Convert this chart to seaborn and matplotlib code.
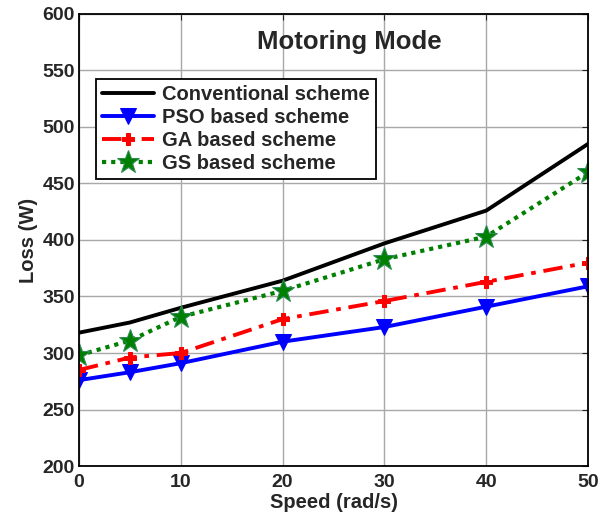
import matplotlib
matplotlib.use("Agg")
import matplotlib.pyplot as plt
import seaborn as sns
import pandas as pd

speed = [0, 5, 10, 20, 30, 40, 50]
conventional = [318, 327, 340, 364, 397, 426, 485]
pso = [276, 283, 291, 310, 323, 341, 359]
ga = [285, 296, 300, 330, 346, 363, 380]
gs = [298, 311, 332, 355, 383, 403, 460]
series_names = ["Conventional scheme", "PSO based scheme", "GA based scheme", "GS based scheme"]
x_ticks = [0, 10, 20, 30, 40, 50]
y_ticks = [200, 250, 300, 350, 400, 450, 500, 550, 600]

sns.set_style("white")
plt.rcParams['font.family'] = ['Liberation Sans', 'DejaVu Sans']
plt.rcParams['font.weight'] = 'bold'

fig = plt.figure(figsize=(6.1, 5.17), dpi=100)
ax = fig.add_axes([0.1295, 0.0986, 0.8345, 0.8744])

styles = [
    dict(color="black", linestyle="-", marker=None, lw=2.8),
    dict(color="blue", linestyle="-", marker="v", lw=2.8, ms=12, mfc="blue", mec="blue"),
    dict(color="red", linestyle=(0, (5, 2, 1.2, 2)), marker="P", lw=2.8, ms=8, mfc="red", mec="red"),
    dict(color="green", linestyle=(0, (1, 1.2)), marker="*", lw=3.0, ms=17, mfc="green", mec="#2E8B57"),
]
for vals, name, st in zip([conventional, pso, ga, gs], series_names, styles):
    df = pd.DataFrame({"Speed": speed, "Loss": vals})
    kw = dict(color=st["color"], linestyle=st["linestyle"], linewidth=st["lw"], label=name)
    if st["marker"]:
        kw.update(marker=st["marker"], markersize=st["ms"], markerfacecolor=st["mfc"],
                  markeredgecolor=st["mec"])
    sns.lineplot(data=df, x="Speed", y="Loss", ax=ax, **kw)

ax.set_xlim(0, 50)
ax.set_ylim(200, 600)
ax.set_xticks(x_ticks)
ax.set_yticks(y_ticks)
ax.grid(True, color="#a8a8a8", linewidth=1)
ax.tick_params(direction="in", length=4, labelsize=14, top=True, right=True)
ax.tick_params(axis="x", pad=6)
ax.tick_params(axis="y", pad=3)
for lab in ax.get_xticklabels() + ax.get_yticklabels():
    lab.set_fontweight("bold")
for sp in ax.spines.values():
    sp.set_color("black")
    sp.set_linewidth(1.3)
ax.set_xlabel("Speed (rad/s)", fontsize=14.5, fontweight="bold", labelpad=1)
ax.set_ylabel("Loss (W)", fontsize=14.5, fontweight="bold", labelpad=3)
ax.text(0.532, 0.938, "Motoring Mode", transform=ax.transAxes, ha="center", va="center",
        fontsize=18.5, fontweight="bold")

leg = ax.legend(loc="upper left", bbox_to_anchor=(0.033, 0.856), fontsize=14.5,
                frameon=True, fancybox=False, edgecolor="black", framealpha=1,
                handlelength=2.6, borderpad=0.3, labelspacing=0.2, handletextpad=0.4,
                borderaxespad=0)
leg.get_frame().set_linewidth(1.3)
for t in leg.get_texts():
    t.set_fontweight("bold")

fig.savefig("out.png", dpi=100)
